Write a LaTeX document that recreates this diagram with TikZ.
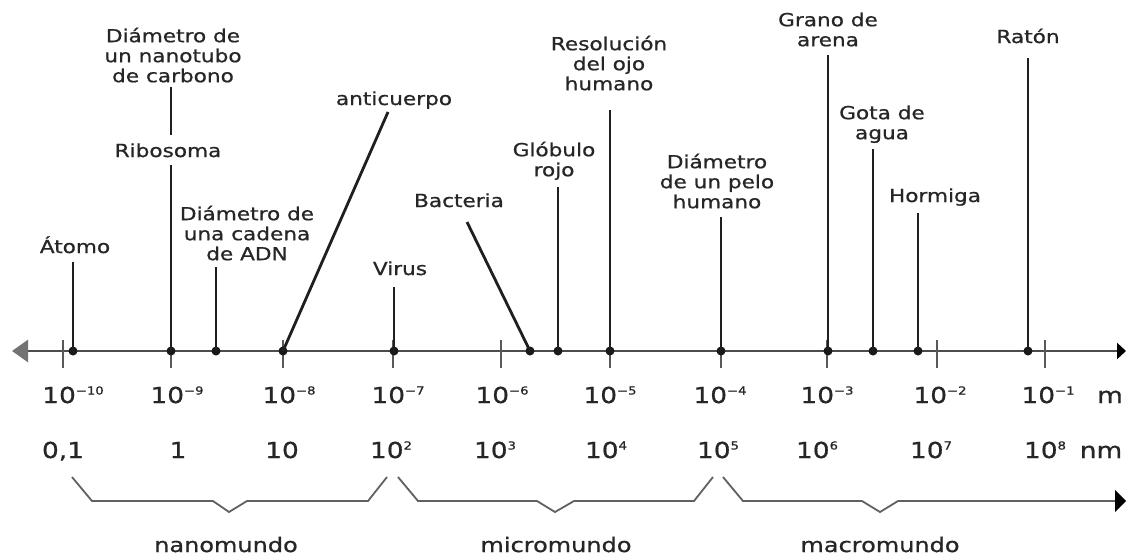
\documentclass[tikz,border=0pt]{standalone}
\usepackage{fontspec}
\setmainfont[FakeStretch=1.2,FakeBold=0.8]{DejaVu Sans}
\usetikzlibrary{arrows.meta}
\newcommand\myexp[1]{\raisebox{8.5pt}{\fontsize{11}{11}\selectfont #1}}
\newcommand\lblstrut{\rule{0pt}{18pt}}
\begin{document}
\begin{tikzpicture}[x=1pt,y=-1pt,
  lbl/.style={font=\fontsize{18}{20}\selectfont, align=center, inner sep=0pt, anchor=north, text=black!85},
  lblb/.style={font=\fontsize{18}{20}\selectfont, inner sep=0pt, anchor=base, text=black!85},
  num/.style={font=\fontsize{22}{24}\selectfont, inner sep=0pt, anchor=base, text=black!85},
  world/.style={font=\fontsize{20}{22}\selectfont, inner sep=0pt, anchor=base, text=black!85},
  stem/.style={line width=2.8pt, black!88},
  dotn/.style={circle, fill=black!90, inner sep=0pt, minimum size=9pt},
  tickl/.style={line width=1.8pt, black!65},
  axisl/.style={line width=2.6pt, black!70},
  bracel/.style={line width=1.8pt, black!62, line join=miter}]
\useasboundingbox (0,0) rectangle (1126,555);
\fill[white] (0,0) rectangle (1126,555);

% axis
\coordinate (axL) at (12,351);
\coordinate (axR) at (1126,351);
\draw[axisl, {Triangle[length=16pt,width=22pt,color=black!55]}-{Triangle[length=9pt,width=16pt,color=black]}] (axL) -- (axR);

% ticks
\foreach \x in {63,171,283,393,501,610,721,827,937,1045}
  \draw[tickl] (\x,340) -- (\x,368);

% dots
\node[dotn] (d-atomo) at (73,351) {};
\node[dotn] (d-ribo) at (171,351) {};
\node[dotn] (d-adn) at (216,351) {};
\node[dotn] (d-anti) at (283,351) {};
\node[dotn] (d-virus) at (394,351) {};
\node[dotn] (d-bact) at (530,351) {};
\node[dotn] (d-glob) at (558,351) {};
\node[dotn] (d-reso) at (610,351) {};
\node[dotn] (d-pelo) at (721,351) {};
\node[dotn] (d-grano) at (828,351) {};
\node[dotn] (d-gota) at (873,351) {};
\node[dotn] (d-horm) at (918,351) {};
\node[dotn] (d-raton) at (1028,351) {};

% labels
\node[lblb] (atomo) at (75,253) {Átomo};
\node[lbl] (nanotubo) at (173,24) {\lblstrut Diámetro de\\un nanotubo\\de carbono};
\node[lblb] (ribo) at (168,157) {Ribosoma};
\node[lbl] (adn) at (247,202) {\lblstrut Diámetro de\\una cadena\\de ADN};
\node[lblb] (anti) at (394,105) {anticuerpo};
\node[lblb] (virus) at (400,275) {Virus};
\node[lblb] (bact) at (459,207) {Bacteria};
\node[lbl] (glob) at (554,138) {\lblstrut Glóbulo\\rojo};
\node[lbl] (reso) at (609,32) {\lblstrut Resolución\\del ojo\\humano};
\node[lbl] (pelo) at (717,150) {\lblstrut Diámetro\\de un pelo\\humano};
\node[lbl] (grano) at (828,8) {\lblstrut Grano de\\arena};
\node[lbl] (gota) at (882,101) {\lblstrut Gota de\\agua};
\node[lblb] (horm) at (935,202) {Hormiga};
\node[lblb] (raton) at (1028,43) {Ratón};

% stem tops
\coordinate (t-atomo) at (73,262);
\coordinate (t-ribo) at (171,165);
\coordinate (t-nano-b) at (171,135);
\coordinate (t-nano) at (171,87);
\coordinate (t-adn) at (216,267);
\coordinate (t-anti) at (388,112);
\coordinate (t-virus) at (394,287);
\coordinate (t-bact) at (467,222);
\coordinate (t-glob) at (558,187);
\coordinate (t-reso) at (610,110);
\coordinate (t-pelo) at (721,217);
\coordinate (t-grano) at (828,55);
\coordinate (t-gota) at (873,149);
\coordinate (t-horm) at (918,213);
\coordinate (t-raton) at (1028,58);

\draw[stem] (d-atomo.center) -- (t-atomo);
\draw[stem] (d-ribo.center) -- (t-ribo);
\draw[stem] (t-nano-b) -- (t-nano);
\draw[stem] (d-adn.center) -- (t-adn);
\draw[stem] (d-anti.center) -- (t-anti);
\draw[stem] (d-virus.center) -- (t-virus);
\draw[stem] (d-bact.center) -- (t-bact);
\draw[stem] (d-glob.center) -- (t-glob);
\draw[stem] (d-reso.center) -- (t-reso);
\draw[stem] (d-pelo.center) -- (t-pelo);
\draw[stem] (d-grano.center) -- (t-grano);
\draw[stem] (d-gota.center) -- (t-gota);
\draw[stem] (d-horm.center) -- (t-horm);
\draw[stem] (d-raton.center) -- (t-raton);

% meters row
\node[num] (m10) at (73,403) {10\myexp{−10}};
\node[num] (m9) at (177,403) {10\myexp{−9}};
\node[num] (m8) at (289,403) {10\myexp{−8}};
\node[num] (m7) at (398,403) {10\myexp{−7}};
\node[num] (m6) at (502,403) {10\myexp{−6}};
\node[num] (m5) at (610,403) {10\myexp{−5}};
\node[num] (m4) at (720,403) {10\myexp{−4}};
\node[num] (m3) at (827,403) {10\myexp{−3}};
\node[num] (m2) at (940,403) {10\myexp{−2}};
\node[num] (m1) at (1048,403) {10\myexp{−1}};
\node[num] (munit) at (1110,403) {m};

% nanometers row
\node[num] (n0) at (63,458) {0,1};
\node[num] (n1) at (178,458) {1};
\node[num] (n2) at (282,458) {10};
\node[num] (n3) at (391,458) {10\myexp{2}};
\node[num] (n4) at (495,458) {10\myexp{3}};
\node[num] (n5) at (606,458) {10\myexp{4}};
\node[num] (n6) at (718,458) {10\myexp{5}};
\node[num] (n7) at (817,458) {10\myexp{6}};
\node[num] (n8) at (931,458) {10\myexp{7}};
\node[num] (n9) at (1045,458) {10\myexp{8}};
\node[num] (nunit) at (1101,458) {nm};

% braces
\draw[bracel] (72,477) -- (92,501) -- (213,501) -- (229,512) -- (247,501) -- (368,501) -- (387,477);
\draw[bracel] (398,477) -- (418,501) -- (537,501) -- (555,512) -- (574,501) -- (694,501) -- (713,477);
\coordinate (macroEnd) at (1126,501);
\draw[bracel, -{Triangle[length=11pt,width=22pt,color=black]}] (723,477) -- (743,501) -- (862,501) -- (880,512) -- (898,501) -- (macroEnd);

\node[world] (nano) at (226,552) {nanomundo};
\node[world] (micro) at (556,552) {micromundo};
\node[world] (macro) at (880,552) {macromundo};
\end{tikzpicture}
\end{document}
